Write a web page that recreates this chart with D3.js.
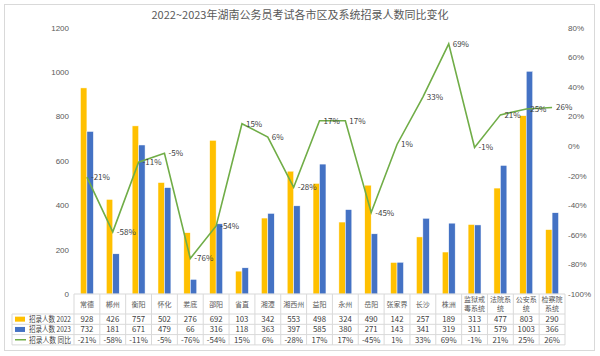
<!DOCTYPE html>
<html><head><meta charset="utf-8">
<script src="https://cdn.jsdelivr.net/npm/d3@7/dist/d3.min.js"></script>
<style>body{margin:0;background:#fff}svg{display:block;font-family:"Noto Sans CJK SC","Microsoft YaHei",sans-serif}</style>
</head><body>
<svg id="c" width="600" height="356"></svg>
<script>
const title = "2022~2023年湖南公务员考试各市区及系统招录人数同比变化";
const categories = ["常德","郴州","衡阳","怀化","娄底","邵阳","省直","湘潭","湘西州","益阳","永州","岳阳","张家界","长沙","株洲","监狱戒毒系统","法院系统","公安系统","检察院系统"];
const catLines = [["常德"],["郴州"],["衡阳"],["怀化"],["娄底"],["邵阳"],["省直"],["湘潭"],["湘西州"],["益阳"],["永州"],["岳阳"],["张家界"],["长沙"],["株洲"],["监狱戒","毒系统"],["法院系","统"],["公安系","统"],["检察院","系统"]];
const v2022 = [928,426,757,502,276,692,103,342,553,498,324,490,142,257,189,313,477,803,290];
const v2023 = [732,181,671,479,66,316,118,363,397,585,380,271,143,341,319,311,579,1003,366];
const yoy = [-21,-58,-11,-5,-76,-54,15,6,-28,17,17,-45,1,33,69,-1,21,25,26];
const leftTicks = [0,200,400,600,800,1000,1200];
const rightTicks = [-100,-80,-60,-40,-20,0,20,40,60,80];
const seriesNames = ["招录人数 2022","招录人数 2023","招录人数 同比"];
const colors = ["#FFC000","#4472C4","#70AD47"];

const svg = d3.select("#c");
const L = 74, R = 565, T = 27.5, B = 294;
svg.append("rect").attr("x",4.5).attr("y",4.5).attr("width",590).attr("height",346).attr("fill","#fff").attr("stroke","#d9d9d9");
svg.append("text").attr("x",300).attr("y",19).attr("text-anchor","middle").attr("font-size",11).attr("fill","#595959").text(title);

const x = d3.scaleBand().domain(categories).range([L,R]);
const bw = x.bandwidth();
const x1 = d3.scaleBand().domain([0,1]).range([bw*0.25, bw*0.75]);
const y = d3.scaleLinear().domain([0,1200]).range([B,T]);
const y2 = d3.scaleLinear().domain([-100,80]).range([B,T]);

const ga = svg.append("g").attr("transform",`translate(${69},0)`)
  .call(d3.axisLeft(y).tickValues(leftTicks).tickSize(0).tickPadding(0).tickFormat(d3.format("d")));
ga.select(".domain").remove();
ga.selectAll("text").attr("font-size",8).attr("fill","#595959").attr("font-family","inherit");
const gr = svg.append("g").attr("transform",`translate(${568},0)`)
  .call(d3.axisRight(y2).tickValues(rightTicks).tickSize(0).tickPadding(0).tickFormat(d=>d+"%"));
gr.select(".domain").remove();
gr.selectAll("text").attr("font-size",8).attr("fill","#595959").attr("font-family","inherit");

[v2022,v2023].forEach((vals,si)=>{
  svg.append("g").selectAll("rect").data(vals).join("rect")
    .attr("x",(d,i)=>x(categories[i])+x1(si))
    .attr("y",d=>y(d)).attr("width",x1.bandwidth()).attr("height",d=>B-y(d))
    .attr("fill",colors[si]).attr("stroke","#fff").attr("stroke-width",0.5);
});

const line = d3.line().x((d,i)=>x(categories[i])+bw/2).y(d=>y2(d));
svg.append("path").datum(yoy).attr("d",line).attr("fill","none").attr("stroke",colors[2]).attr("stroke-width",1.6).attr("stroke-linejoin","miter");
svg.append("g").selectAll("text").data(yoy).join("text")
  .attr("x",(d,i)=>x(categories[i])+bw/2+4).attr("y",d=>y2(d)+3)
  .attr("font-size",8).attr("fill","#404040").text(d=>d+"%");

const tg = svg.append("g");
const gridC = "#d9d9d9";
const hTop = B, hBot = 314, rowH = 10.3;
const rowsY = [hBot, hBot+rowH, hBot+2*rowH, hBot+3*rowH];
tg.append("line").attr("x1",L).attr("x2",R).attr("y1",hTop).attr("y2",hTop).attr("stroke",gridC);
rowsY.forEach(yy=>tg.append("line").attr("x1",12).attr("x2",R).attr("y1",yy).attr("y2",yy).attr("stroke",gridC));
tg.append("line").attr("x1",12).attr("x2",12).attr("y1",hBot).attr("y2",rowsY[3]).attr("stroke",gridC);
d3.range(categories.length+1).forEach(i=>{
  const xx = L + i*bw;
  tg.append("line").attr("x1",xx).attr("x2",xx).attr("y1",hTop).attr("y2",rowsY[3]).attr("stroke",gridC);
});
categories.forEach((c,i)=>{
  const lines = catLines[i];
  const cx = x(c)+bw/2;
  const startY = lines.length===1 ? 306.5 : 302;
  lines.forEach((ln,j)=>{
    tg.append("text").attr("x",cx).attr("y",startY+j*8.5).attr("text-anchor","middle")
      .attr("font-size",7).attr("fill","#595959").text(ln);
  });
});
const rowData = [v2022, v2023, yoy.map(d=>d+"%")];
rowData.forEach((vals,r)=>{
  const cy = rowsY[r] + rowH/2 + 2.8;
  tg.append("g").selectAll("text").data(vals).join("text")
    .attr("x",(d,i)=>x(categories[i])+bw/2).attr("y",cy).attr("text-anchor","middle")
    .attr("font-size",7.8).attr("fill","#404040").text(d=>d);
  if (r<2) tg.append("rect").attr("x",15).attr("y",rowsY[r]+rowH/2-2.5).attr("width",10).attr("height",5).attr("fill",colors[r]);
  else tg.append("line").attr("x1",15).attr("x2",26).attr("y1",rowsY[r]+rowH/2).attr("y2",rowsY[r]+rowH/2).attr("stroke",colors[2]).attr("stroke-width",1.5);
  tg.append("text").attr("x",29).attr("y",cy).attr("font-size",7.5).attr("fill","#404040")
    .attr("textLength",42).attr("lengthAdjust","spacingAndGlyphs").text(seriesNames[r]);
});
</script>
</body></html>
